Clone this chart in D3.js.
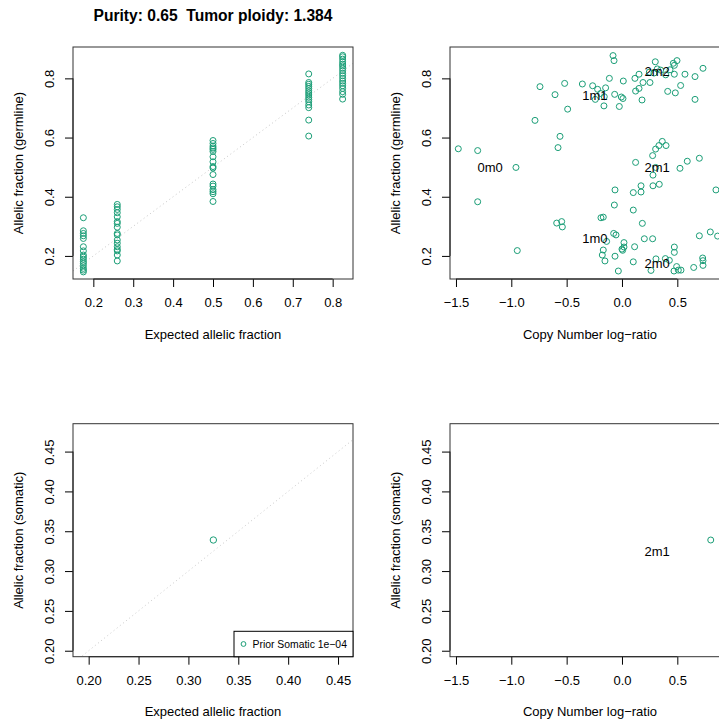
<!DOCTYPE html>
<html>
<head>
<meta charset="utf-8">
<script src="https://cdn.jsdelivr.net/npm/d3@7"></script>
<style>
  body { margin: 0; background: #fff; }
  text { font-family: "Liberation Sans", Arial, Helvetica, sans-serif; }
</style>
</head>
<body>
<svg id="chart" width="719" height="721"></svg>
<script>
// ---- data -------------------------------------------------------------
const purity = 0.65;
const ploidy = 1.384;

// Germline SNPs grouped by their expected allelic fraction
const expectedLevels = [0.175, 0.26, 0.5, 0.74, 0.825];
const germlineByLevel = [
  [0.329, 0.285, 0.276, 0.268, 0.259, 0.231, 0.217, 0.203, 0.196, 0.189, 0.181, 0.175, 0.167, 0.158, 0.152, 0.146],
  [0.374, 0.366, 0.357, 0.346, 0.332, 0.316, 0.310, 0.297, 0.276, 0.271, 0.254, 0.243, 0.231, 0.222, 0.217, 0.203, 0.183],
  [0.590, 0.580, 0.571, 0.565, 0.560, 0.553, 0.535, 0.518, 0.502, 0.497, 0.475, 0.443, 0.436, 0.424, 0.417, 0.410, 0.384],
  [0.815, 0.786, 0.780, 0.773, 0.766, 0.758, 0.751, 0.744, 0.736, 0.729, 0.721, 0.710, 0.701, 0.659, 0.605],
  [0.878, 0.873, 0.865, 0.856, 0.848, 0.842, 0.834, 0.826, 0.817, 0.809, 0.800, 0.791, 0.783, 0.775, 0.766, 0.755, 0.746, 0.730]
];

// Germline SNPs against copy-number log-ratio
const germlineLogR = [
  -1.479, -1.304, -1.304, -0.958, -0.946, -0.786, -0.741, -0.605, -0.560, -0.578,
  -0.518, -0.491, -0.590, -0.545, -0.539, -0.358, -0.265, -0.220, -0.148, -0.114,
  -0.193, -0.241, -0.160, -0.163, -0.081, -0.072, -0.066, -0.024, -0.006, 0.009,
  0.012, 0.117, 0.154, 0.123, 0.154, 0.181, 0.190, 0.253, 0.301, 0.247,
  0.289, 0.349, 0.395, 0.434, 0.464, 0.473, 0.497, 0.473, 0.413, 0.482,
  0.530, 0.569, 0.660, 0.732, 0.660, 0.319, 0.364, 0.334, 0.398, 0.304,
  0.277, 0.123, 0.304, 0.280, 0.524, 0.590, 0.699, 0.849, -0.063, 0.102,
  0.172, 0.172, 0.280, 0.337, -0.069, 0.102, -0.190, -0.169, 0.184, -0.075,
  -0.054, -0.139, -0.169, -0.178, -0.154, -0.063, -0.033, 0.018, 0.000, 0.018,
  0.114, 0.102, 0.202, 0.277, 0.262, 0.307, 0.392, 0.428, 0.473, 0.473,
  0.470, 0.494, 0.509, 0.533, 0.648, 0.729, 0.732, 0.732, 0.699, 0.798,
  0.864, 0.006
];
const germlineAF = [
  0.562, 0.556, 0.383, 0.499, 0.218, 0.658, 0.772, 0.745, 0.604, 0.566,
  0.783, 0.696, 0.311, 0.316, 0.298, 0.781, 0.775, 0.763, 0.768, 0.800,
  0.749, 0.729, 0.738, 0.707, 0.877, 0.860, 0.746, 0.705, 0.737, 0.732,
  0.791, 0.800, 0.814, 0.757, 0.766, 0.727, 0.786, 0.786, 0.856, 0.821,
  0.818, 0.828, 0.812, 0.829, 0.851, 0.844, 0.860, 0.814, 0.756, 0.751,
  0.776, 0.814, 0.806, 0.834, 0.729, 0.832, 0.587, 0.573, 0.573, 0.561,
  0.539, 0.516, 0.499, 0.473, 0.496, 0.520, 0.530, 0.423, 0.423, 0.414,
  0.416, 0.437, 0.437, 0.442, 0.372, 0.355, 0.329, 0.331, 0.310, 0.276,
  0.271, 0.249, 0.220, 0.203, 0.183, 0.199, 0.149, 0.245, 0.223, 0.230,
  0.231, 0.180, 0.258, 0.258, 0.151, 0.190, 0.191, 0.185, 0.230, 0.212,
  0.149, 0.164, 0.152, 0.152, 0.161, 0.193, 0.184, 0.168, 0.268, 0.281,
  0.267, 0.219
];

// Copy-number states (total copies "m" minor copies)
const stateNames = ["0m0", "1m0", "1m1", "2m0", "2m1", "2m2"];
const stateLogR = [-1.192, -0.245, -0.245, 0.318, 0.318, 0.318];
const stateAF = [0.5, 0.259, 0.741, 0.175, 0.5, 0.825];

// Somatic mutations
const somaticExpected = [0.325];
const somaticAF = [0.339];
const somaticLogR = [0.802];
const somaticStateNames = ["2m1"];
const somaticStateLogR = [0.318];
const somaticStateAF = [0.325];
const somaticLegend = "Prior Somatic 1e\u221204";

// ---- drawing ----------------------------------------------------------
const svg = d3.select("#chart");
const pointColor = "#1B9E77";
const fontSize = 13;

svg.append("text")
  .attr("x", 213).attr("y", 21)
  .attr("text-anchor", "middle")
  .attr("font-size", 15.6).attr("font-weight", "bold")
  .style("white-space", "pre")
  .text(`Purity: ${purity}  Tumor ploidy: ${ploidy}`);

let clipId = 0;
function makePanel(cfg) {
  const x = d3.scaleLinear().domain(cfg.xDomain).range([cfg.left, cfg.right]);
  const y = d3.scaleLinear().domain(cfg.yDomain).range([cfg.bottom, cfg.top]);
  const g = svg.append("g");

  const id = "clip" + (clipId++);
  svg.append("clipPath").attr("id", id)
    .append("rect")
    .attr("x", cfg.left).attr("y", cfg.top)
    .attr("width", cfg.right - cfg.left).attr("height", cfg.bottom - cfg.top);
  const plot = g.append("g").attr("clip-path", `url(#${id})`);

  // x axis
  const xa = g.append("g")
    .attr("transform", `translate(0,${cfg.bottom})`)
    .call(d3.axisBottom(x).tickValues(cfg.xTicks).tickFormat(d3.format(cfg.xFmt))
      .tickSize(8).tickSizeOuter(0).tickPadding(11));
  xa.select(".domain").remove();
  xa.append("line")
    .attr("x1", x(cfg.xTicks[0])).attr("x2", x(cfg.xTicks[cfg.xTicks.length - 1]))
    .attr("stroke", "#000");
  xa.selectAll("text").attr("font-size", fontSize).attr("fill", "#000")
    .attr("font-family", null);
  xa.selectAll(".tick line").attr("stroke", "#000");

  // y axis with labels turned parallel to the axis
  const ya = g.append("g")
    .attr("transform", `translate(${cfg.left},0)`)
    .call(d3.axisLeft(y).tickValues(cfg.yTicks).tickFormat(d3.format(cfg.yFmt))
      .tickSize(8).tickSizeOuter(0));
  ya.select(".domain").remove();
  ya.append("line")
    .attr("y1", y(cfg.yTicks[0])).attr("y2", y(cfg.yTicks[cfg.yTicks.length - 1]))
    .attr("stroke", "#000");
  ya.selectAll(".tick line").attr("stroke", "#000");
  ya.selectAll("text")
    .attr("x", null).attr("dy", "0.35em")
    .attr("transform", "translate(-24,0) rotate(-90)")
    .attr("text-anchor", "middle")
    .attr("font-size", fontSize).attr("fill", "#000")
    .attr("font-family", null);

  // frame
  g.append("rect")
    .attr("x", cfg.left).attr("y", cfg.top)
    .attr("width", cfg.right - cfg.left).attr("height", cfg.bottom - cfg.top)
    .attr("fill", "none").attr("stroke", "#333").attr("stroke-width", 1);

  // axis titles
  g.append("text")
    .attr("x", (cfg.left + cfg.right) / 2).attr("y", cfg.bottom + 59.5)
    .attr("text-anchor", "middle").attr("font-size", fontSize)
    .text(cfg.xTitle);
  g.append("text")
    .attr("transform", `translate(${cfg.left - 55},${(cfg.top + cfg.bottom) / 2}) rotate(-90)`)
    .attr("dy", "0.35em")
    .attr("text-anchor", "middle").attr("font-size", fontSize)
    .text(cfg.yTitle);

  return { x, y, g, plot };
}

function diagonal(p) {
  const [d0, d1] = p.x.domain();
  p.plot.append("line")
    .attr("x1", p.x(d0)).attr("y1", p.y(d0))
    .attr("x2", p.x(d1)).attr("y2", p.y(d1))
    .attr("stroke", "#c8c8c8").attr("stroke-width", 1)
    .attr("stroke-dasharray", "1,3");
}

function points(p, xs, ys, r) {
  p.plot.selectAll(null)
    .data(xs.map((v, i) => [v, ys[i]]))
    .join("circle")
    .attr("cx", d => p.x(d[0])).attr("cy", d => p.y(d[1]))
    .attr("r", r)
    .attr("fill", "none").attr("stroke", pointColor).attr("stroke-width", 1);
}

function stateLabels(p, names, xs, ys) {
  p.plot.selectAll(null)
    .data(names.map((n, i) => [n, xs[i], ys[i]]))
    .join("text")
    .attr("x", d => p.x(d[1])).attr("y", d => p.y(d[2]))
    .attr("dy", "0.35em").attr("text-anchor", "middle")
    .attr("font-size", fontSize).attr("fill", "#000")
    .text(d => d[0]);
}

const afTicks1 = [0.2, 0.3, 0.4, 0.5, 0.6, 0.7, 0.8];
const afTicks2 = [0.2, 0.4, 0.6, 0.8];
const lrTicks = [-1.5, -1.0, -0.5, 0.0, 0.5];
const somTicks = [0.20, 0.25, 0.30, 0.35, 0.40, 0.45];

// top-left: observed vs expected germline allelic fraction
const p1 = makePanel({
  left: 73, right: 353, top: 47, bottom: 279,
  xDomain: [0.149, 0.851], yDomain: [0.122, 0.906],
  xTicks: afTicks1, xFmt: ".1f", yTicks: afTicks2, yFmt: ".1f",
  xTitle: "Expected allelic fraction", yTitle: "Allelic fraction (germline)"
});
diagonal(p1);
germlineByLevel.forEach((vals, i) => {
  points(p1, vals.map(() => expectedLevels[i]), vals, 3);
});

// top-right: germline allelic fraction vs log-ratio
const p2 = makePanel({
  left: 450, right: 730, top: 47, bottom: 279,
  xDomain: [-1.554, 0.976], yDomain: [0.122, 0.906],
  xTicks: lrTicks, xFmt: ".1f", yTicks: afTicks2, yFmt: ".1f",
  xTitle: "Copy Number log\u2212ratio", yTitle: "Allelic fraction (germline)"
});
points(p2, germlineLogR, germlineAF, 3);
stateLabels(p2, stateNames, stateLogR, stateAF);

// bottom-left: somatic observed vs expected
const p3 = makePanel({
  left: 73, right: 353, top: 423.7, bottom: 656.7,
  xDomain: [0.1843, 0.465], yDomain: [0.1925, 0.485],
  xTicks: somTicks, xFmt: ".2f", yTicks: somTicks, yFmt: ".2f",
  xTitle: "Expected allelic fraction", yTitle: "Allelic fraction (somatic)"
});
diagonal(p3);
points(p3, somaticExpected, somaticAF, 3.2);

// legend
const lg = p3.g.append("g");
lg.append("rect")
  .attr("x", 234).attr("y", 631.3).attr("width", 119).attr("height", 25.4)
  .attr("fill", "#fff").attr("stroke", "#000");
lg.append("circle")
  .attr("cx", 243.5).attr("cy", 644).attr("r", 2.4)
  .attr("fill", "none").attr("stroke", pointColor);
lg.append("text")
  .attr("x", 252.5).attr("y", 644).attr("dy", "0.35em")
  .attr("font-size", 10.4).text(somaticLegend);

// bottom-right: somatic allelic fraction vs log-ratio
const p4 = makePanel({
  left: 450, right: 730, top: 423.7, bottom: 656.7,
  xDomain: [-1.554, 0.976], yDomain: [0.1925, 0.485],
  xTicks: lrTicks, xFmt: ".1f", yTicks: somTicks, yFmt: ".2f",
  xTitle: "Copy Number log\u2212ratio", yTitle: "Allelic fraction (somatic)"
});
points(p4, somaticLogR, somaticAF, 3);
stateLabels(p4, somaticStateNames, somaticStateLogR, somaticStateAF);
</script>
</body>
</html>
